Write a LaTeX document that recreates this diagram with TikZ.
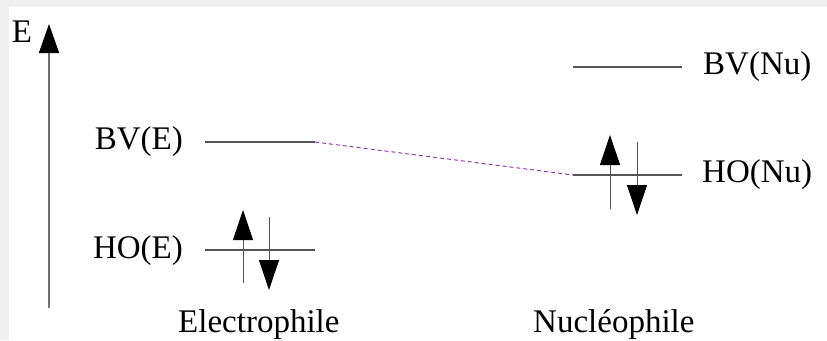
\documentclass[tikz,border=0pt]{standalone}
\usepackage{fontspec}
\setmainfont{Liberation Serif}
\usetikzlibrary{arrows.meta}
\definecolor{bggrey}{HTML}{F0F0F0}
\definecolor{axisgrey}{HTML}{707070}
\definecolor{levelgrey}{HTML}{555555}
\definecolor{dashpurple}{HTML}{8A2BB0}
\begin{document}
\begin{tikzpicture}[x=1pt,y=-1pt,
  lbl/.style={inner sep=0pt,font=\fontsize{33}{40}\selectfont},
  level/.style={draw=levelgrey,line width=1.1pt},
  spin/.style={draw=levelgrey,line width=0.9pt,-{Triangle[length=30pt,width=20pt,color=black]}},
  axisline/.style={draw=axisgrey,line width=1.6pt,-{Triangle[length=29pt,width=20pt,color=black]}},
  link/.style={draw=dashpurple,line width=0.9pt,dash pattern=on 4pt off 3pt}]
\useasboundingbox (0,0) rectangle (827,340);
\fill[bggrey] (0,0) rectangle (827,340);
\fill[white] (9,7) rectangle (827,340);
% axis
\coordinate (axb) at (49,308);
\coordinate (axt) at (49,24);
\draw[axisline] (axb) -- (axt);
\node[lbl] (E) at (22,32) {E};
% electrophile levels
\coordinate (bve1) at (205,142);
\coordinate (bve2) at (315,142);
\coordinate (hoe1) at (205,250);
\coordinate (hoe2) at (315,250);
\draw[level] (bve1) -- (bve2);
\draw[level] (hoe1) -- (hoe2);
\node[lbl,anchor=east] (bvE) at (183,142) {BV(E)};
\node[lbl,anchor=east] (hoE) at (183,251) {HO(E)};
\coordinate (eu1) at (243,283);
\coordinate (eu2) at (243,210);
\coordinate (ed1) at (269,217);
\coordinate (ed2) at (269,290);
\draw[spin] (eu1) -- (eu2);
\draw[spin] (ed1) -- (ed2);
\node[lbl,anchor=base west] (elec) at (178,332) {Electrophile};
% nucleophile levels
\coordinate (bvn1) at (573,67);
\coordinate (bvn2) at (682,67);
\coordinate (hon1) at (573,175);
\coordinate (hon2) at (682,175);
\draw[level] (bvn1) -- (bvn2);
\draw[level] (hon1) -- (hon2);
\node[lbl,anchor=west] (bvNu) at (703,67) {BV(Nu)};
\node[lbl,anchor=west] (hoNu) at (702,175) {HO(Nu)};
\coordinate (nu1) at (610,209);
\coordinate (nu2) at (610,135);
\coordinate (nd1) at (637,142);
\coordinate (nd2) at (637,215);
\draw[spin] (nu1) -- (nu2);
\draw[spin] (nd1) -- (nd2);
\node[lbl,anchor=base west] (nucl) at (533,332) {Nucléophile};
% interaction
\draw[link] (bve2) -- (hon1);
\end{tikzpicture}
\end{document}
